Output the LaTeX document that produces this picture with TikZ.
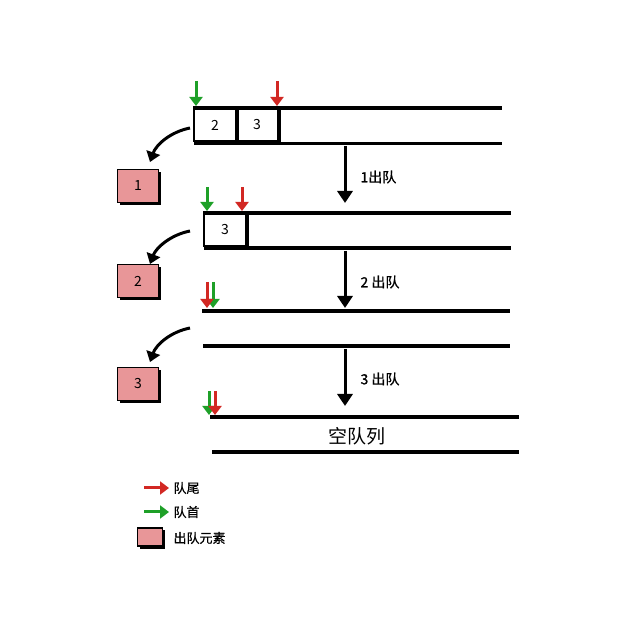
\documentclass[tikz,border=0pt]{standalone}
\usepackage{fontspec}
\setmainfont{Noto Sans CJK SC}
\usetikzlibrary{arrows.meta,shadows}
\definecolor{pinkfill}{RGB}{232,150,152}
\definecolor{qred}{RGB}{210,40,35}
\definecolor{qgreen}{RGB}{30,160,40}
\begin{document}
\begin{tikzpicture}[x=1pt,y=-1pt,
  qline/.style={line width=3.4pt},
  elem/.style={draw, line width=2pt, minimum width=42pt, minimum height=33pt, inner sep=0pt,
    anchor=north west, font=\fontsize{14}{14}\selectfont},
  outbox/.style={draw, line width=1.8pt, fill=pinkfill, minimum width=41pt, minimum height=33pt,
    inner sep=0pt, font=\fontsize{14}{14}\selectfont,
    general shadow={fill=black, shadow xshift=2.5pt, shadow yshift=-2.5pt}},
  ptr/.style={line width=3pt, -{Triangle[length=9pt,width=13pt]}},
  redptr/.style={ptr, qred},
  greenptr/.style={ptr, qgreen},
  step arrow/.style={line width=3pt, -{Triangle[length=12pt,width=15pt]}},
  curve arrow/.style={line width=3pt, -{Triangle[length=10pt,width=14pt]}},
  steplabel/.style={anchor=west, font=\fontsize{14}{14}\selectfont\addfontfeature{FakeBold=1.2}},
  legendtext/.style={anchor=west, font=\fontsize{13}{13}\selectfont\addfontfeature{FakeBold=0.8}}
]
\useasboundingbox (0,0) rectangle (635,617);

% ---------- queue 1 ----------
\coordinate (q1tl) at (193,108);
\coordinate (q1tr) at (502,108);
\coordinate (q1bl) at (194,143.5);
\coordinate (q1br) at (502,143.5);
\node[elem] (e12) at (193,107.5) {2};
\node[elem] (e13) at (235,107.5) {3};
\draw[line width=3pt] (e12.north east) -- (e12.south east);
\draw[line width=3.4pt] (e13.north east) -- (e13.south east);
\draw[qline] (q1tl) -- (q1tr);
\draw[qline] (q1bl) -- (q1br);
\coordinate (h1) at (196,81);
\coordinate (t1) at (277,81);
\draw[greenptr] (h1) -- ++(0,25);
\draw[redptr] (t1) -- ++(0,25);

% ---------- queue 2 ----------
\coordinate (q2tl) at (203,213);
\coordinate (q2tr) at (511,213);
\coordinate (q2bl) at (204,248);
\coordinate (q2br) at (511,248);
\node[elem] (e23) at (203,212.5) {3};
\draw[line width=3.4pt] (e23.north east) -- (e23.south east);
\draw[qline] (q2tl) -- (q2tr);
\draw[qline] (q2bl) -- (q2br);
\coordinate (h2) at (207,187);
\coordinate (t2) at (242,187);
\draw[greenptr] (h2) -- ++(0,24);
\draw[redptr] (t2) -- ++(0,24);

% ---------- queue 3 ----------
\coordinate (q3tl) at (202,311);
\coordinate (q3tr) at (510,311);
\coordinate (q3bl) at (203,346);
\coordinate (q3br) at (510,346);
\draw[qline] (q3tl) -- (q3tr);
\draw[qline] (q3bl) -- (q3br);
\coordinate (h3) at (213,282);
\coordinate (t3) at (207,282);
\draw[greenptr] (h3) -- ++(0,26);
\draw[redptr] (t3) -- ++(0,26);

% ---------- queue 4 (empty) ----------
\coordinate (q4tl) at (210,417);
\coordinate (q4tr) at (519,417);
\coordinate (q4bl) at (212,452);
\coordinate (q4br) at (519,452);
\draw[qline] (q4tl) -- (q4tr);
\draw[qline] (q4bl) -- (q4br);
\coordinate (h4) at (209,391);
\coordinate (t4) at (215,391);
\draw[greenptr] (h4) -- ++(0,24);
\draw[redptr] (t4) -- ++(0,24);
\node[font=\fontsize{19}{19}\selectfont] (empty) at (357,436) {空队列};

% ---------- dequeued elements ----------
\node[outbox] (o1) at (138,186) {1};
\node[outbox] (o2) at (138,281) {2};
\node[outbox] (o3) at (138,384) {3};

\coordinate (c1s) at (190,128);
\coordinate (c2s) at (190,231);
\coordinate (c3s) at (190,328);
\draw[curve arrow] (c1s) .. controls (170,132) and (156,145) .. (150,162);
\draw[curve arrow] (c2s) .. controls (170,235) and (156,248) .. (150,264);
\draw[curve arrow] (c3s) .. controls (170,332) and (156,345) .. (150,362);

% ---------- step arrows ----------
\coordinate (s1a) at (345,146);
\coordinate (s1b) at (345,203);
\coordinate (s2a) at (345,251);
\coordinate (s2b) at (345,308);
\coordinate (s3a) at (345,349);
\coordinate (s3b) at (345,406);
\draw[step arrow] (s1a) -- (s1b);
\draw[step arrow] (s2a) -- (s2b);
\draw[step arrow] (s3a) -- (s3b);
\node[steplabel] (l1) at (357,177) {1出队};
\node[steplabel] (l2) at (357,282) {2 出队};
\node[steplabel] (l3) at (357,379) {3 出队};

% ---------- legend ----------
\coordinate (lr) at (144,488);
\coordinate (lg) at (144,512);
\draw[redptr] (lr) -- ++(25,0);
\draw[greenptr] (lg) -- ++(25,0);
\node[legendtext] (lt1) at (170,488) {队尾};
\node[legendtext] (lt2) at (170,512) {队首};
\node[draw, line width=1.8pt, fill=pinkfill, minimum width=25pt, minimum height=18pt, inner sep=0pt,
  general shadow={fill=black, shadow xshift=2.5pt, shadow yshift=-2.5pt}] (lb) at (150,537) {};
\node[legendtext] (lt3) at (170,538) {出队元素};
\end{tikzpicture}
\end{document}
